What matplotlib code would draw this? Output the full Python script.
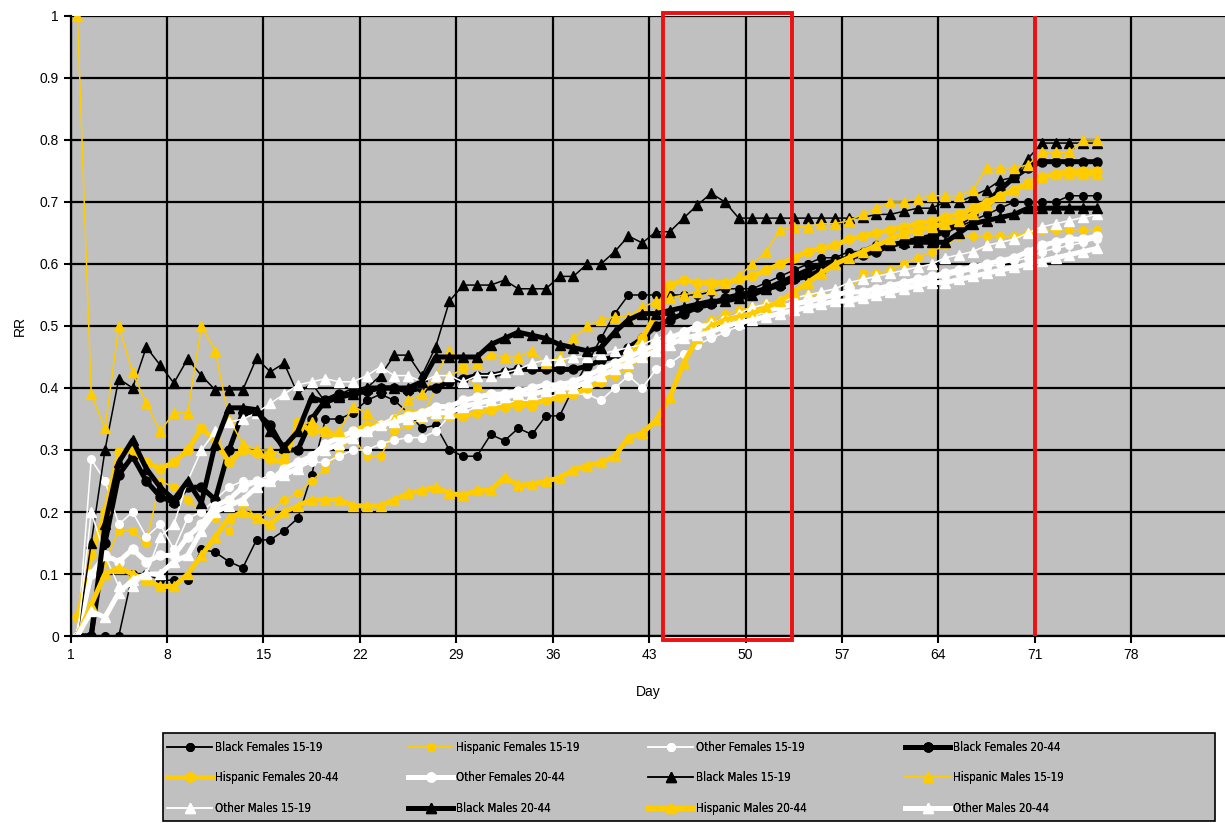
import numpy as np
import matplotlib
matplotlib.use("Agg")
import matplotlib.pyplot as plt
from matplotlib.patches import Rectangle
from matplotlib import font_manager

plt.rcParams['font.family'] = ['Liberation Sans', 'DejaVu Sans']

# --- DANE (dni 1..75) ---
days = np.arange(1, 76)
nan = np.nan

bf15 = [nan, 0, 0, 0, 0.10, 0.10, 0.09, 0.09, 0.09, 0.14,
        0.135, 0.12, 0.11, 0.155, 0.155, 0.17, 0.19, 0.26, 0.35, 0.35,
        0.36, 0.38, 0.39, 0.38, 0.36, 0.335, 0.34, 0.30, 0.29, 0.29,
        0.325, 0.315, 0.335, 0.325, 0.355, 0.355, 0.40, 0.44, 0.48, 0.52,
        0.55, 0.55, 0.55, 0.55, 0.55, 0.55, 0.555, 0.56, 0.56, 0.56,
        0.57, 0.58, 0.59, 0.60, 0.61, 0.61, 0.62, 0.62, 0.63, 0.63,
        0.63, 0.64, 0.64, 0.65, 0.66, 0.67, 0.68, 0.69, 0.70, 0.70,
        0.70, 0.70, 0.71, 0.71, 0.71]
hf15 = [0.0, 0.05, 0.12, 0.17, 0.17, 0.15, 0.25, 0.24, 0.22, 0.20,
        0.19, 0.17, 0.215, 0.19, 0.20, 0.22, 0.23, 0.25, 0.27, 0.30,
        0.32, 0.29, 0.29, 0.33, 0.34, 0.35, 0.40, 0.42, 0.43, 0.40,
        0.39, 0.38, 0.37, 0.37, 0.38, 0.39, 0.40, 0.41, 0.42, 0.42,
        0.43, 0.45, 0.47, 0.48, 0.49, 0.50, 0.51, 0.52, 0.525, 0.53,
        0.535, 0.54, 0.545, 0.55, 0.55, 0.55, 0.555, 0.585, 0.585, 0.59,
        0.60, 0.61, 0.62, 0.63, 0.645, 0.645, 0.645, 0.645, 0.645, 0.65,
        0.655, 0.655, 0.655, 0.655, 0.655]
of15 = [0.0, 0.285, 0.25, 0.18, 0.20, 0.16, 0.18, 0.14, 0.19, 0.20,
        0.22, 0.24, 0.25, 0.25, 0.26, 0.26, 0.27, 0.28, 0.28, 0.29,
        0.30, 0.30, 0.31, 0.316, 0.32, 0.32, 0.33, 0.355, 0.36, 0.37,
        0.37, 0.375, 0.38, 0.38, 0.385, 0.39, 0.39, 0.39, 0.38, 0.40,
        0.42, 0.40, 0.43, 0.44, 0.455, 0.47, 0.48, 0.49, 0.50, 0.51,
        0.515, 0.52, 0.525, 0.53, 0.535, 0.54, 0.545, 0.55, 0.555, 0.56,
        0.565, 0.57, 0.575, 0.58, 0.585, 0.59, 0.595, 0.60, 0.605, 0.61,
        0.62, 0.625, 0.63, 0.635, 0.64]
bf20 = [0.0, 0.0, 0.15, 0.26, 0.29, 0.25, 0.225, 0.215, 0.24, 0.24,
        0.22, 0.30, 0.36, 0.36, 0.34, 0.30, 0.30, 0.35, 0.38, 0.39,
        0.39, 0.395, 0.40, 0.40, 0.395, 0.40, 0.40, 0.41, 0.415, 0.42,
        0.42, 0.425, 0.43, 0.43, 0.43, 0.43, 0.43, 0.435, 0.445, 0.45,
        0.465, 0.48, 0.50, 0.51, 0.52, 0.53, 0.535, 0.545, 0.55, 0.555,
        0.56, 0.565, 0.575, 0.58, 0.59, 0.60, 0.61, 0.615, 0.62, 0.63,
        0.635, 0.64, 0.645, 0.655, 0.665, 0.68, 0.70, 0.72, 0.74, 0.755,
        0.765, 0.765, 0.765, 0.765, 0.765]
hf20 = [0.03, 0.13, 0.20, 0.296, 0.30, 0.28, 0.27, 0.28, 0.30, 0.335,
        0.316, 0.28, 0.30, 0.295, 0.285, 0.28, 0.345, 0.33, 0.33, 0.32,
        0.33, 0.34, 0.34, 0.345, 0.36, 0.36, 0.355, 0.355, 0.355, 0.36,
        0.365, 0.37, 0.375, 0.375, 0.38, 0.385, 0.39, 0.40, 0.41, 0.43,
        0.45, 0.48, 0.52, 0.566, 0.574, 0.57, 0.57, 0.57, 0.575, 0.58,
        0.59, 0.60, 0.61, 0.62, 0.625, 0.63, 0.64, 0.645, 0.65, 0.655,
        0.66, 0.665, 0.67, 0.675, 0.68, 0.69, 0.70, 0.71, 0.72, 0.73,
        0.74, 0.745, 0.75, 0.75, 0.75]
of20 = [0.0, 0.10, 0.13, 0.12, 0.14, 0.12, 0.13, 0.13, 0.16, 0.18,
        0.21, 0.22, 0.24, 0.25, 0.25, 0.27, 0.28, 0.29, 0.31, 0.32,
        0.33, 0.33, 0.34, 0.35, 0.355, 0.36, 0.37, 0.37, 0.38, 0.385,
        0.39, 0.39, 0.395, 0.40, 0.405, 0.405, 0.41, 0.42, 0.43, 0.44,
        0.45, 0.46, 0.47, 0.48, 0.49, 0.50, 0.50, 0.51, 0.515, 0.52,
        0.525, 0.53, 0.535, 0.54, 0.545, 0.55, 0.555, 0.555, 0.56, 0.565,
        0.57, 0.575, 0.58, 0.585, 0.59, 0.595, 0.60, 0.605, 0.61, 0.62,
        0.63, 0.635, 0.64, 0.64, 0.645]
bm15 = [0.0, 0.15, 0.30, 0.415, 0.40, 0.466, 0.437, 0.408, 0.447, 0.42,
        0.397, 0.397, 0.397, 0.448, 0.426, 0.44, 0.39, 0.408, 0.377, 0.389,
        0.40, 0.40, 0.42, 0.453, 0.453, 0.42, 0.466, 0.54, 0.566, 0.566,
        0.566, 0.574, 0.56, 0.56, 0.56, 0.58, 0.58, 0.60, 0.60, 0.62,
        0.645, 0.634, 0.652, 0.652, 0.674, 0.695, 0.714, 0.70, 0.674, 0.674,
        0.674, 0.674, 0.674, 0.674, 0.674, 0.674, 0.674, 0.675, 0.68, 0.68,
        0.685, 0.69, 0.69, 0.70, 0.70, 0.71, 0.72, 0.735, 0.74, 0.77,
        0.795, 0.795, 0.795, 0.795, 0.795]
hm15 = [1.0, 0.39, 0.335, 0.50, 0.425, 0.375, 0.33, 0.36, 0.36, 0.50,
        0.46, 0.35, 0.31, 0.30, 0.30, 0.29, 0.34, 0.345, 0.33, 0.33,
        0.37, 0.36, 0.34, 0.35, 0.38, 0.39, 0.42, 0.46, 0.44, 0.44,
        0.455, 0.45, 0.45, 0.46, 0.44, 0.45, 0.48, 0.50, 0.51, 0.515,
        0.515, 0.53, 0.54, 0.545, 0.55, 0.555, 0.56, 0.57, 0.58, 0.60,
        0.62, 0.655, 0.66, 0.66, 0.665, 0.665, 0.67, 0.68, 0.69, 0.70,
        0.70, 0.705, 0.71, 0.71, 0.71, 0.72, 0.755, 0.755, 0.755, 0.76,
        0.78, 0.78, 0.78, 0.80, 0.80]
om15 = [0.0, 0.20, 0.13, 0.08, 0.08, 0.10, 0.16, 0.18, 0.25, 0.30,
        0.33, 0.345, 0.35, 0.36, 0.375, 0.39, 0.405, 0.41, 0.415, 0.41,
        0.41, 0.42, 0.434, 0.42, 0.42, 0.41, 0.42, 0.42, 0.41, 0.42,
        0.42, 0.425, 0.43, 0.44, 0.445, 0.445, 0.45, 0.45, 0.455, 0.46,
        0.465, 0.47, 0.48, 0.485, 0.49, 0.50, 0.505, 0.51, 0.52, 0.53,
        0.535, 0.54, 0.545, 0.55, 0.555, 0.56, 0.57, 0.575, 0.58, 0.585,
        0.59, 0.595, 0.60, 0.61, 0.615, 0.62, 0.63, 0.635, 0.64, 0.65,
        0.66, 0.665, 0.67, 0.675, 0.68]
bm20 = [0.0, 0.0, 0.18, 0.28, 0.316, 0.27, 0.24, 0.22, 0.25, 0.215,
        0.31, 0.368, 0.368, 0.365, 0.33, 0.305, 0.33, 0.385, 0.377, 0.385,
        0.39, 0.40, 0.40, 0.40, 0.40, 0.41, 0.45, 0.45, 0.45, 0.45,
        0.47, 0.48, 0.49, 0.485, 0.48, 0.47, 0.465, 0.46, 0.465, 0.49,
        0.51, 0.52, 0.52, 0.525, 0.53, 0.535, 0.54, 0.54, 0.545, 0.55,
        0.56, 0.57, 0.58, 0.59, 0.60, 0.605, 0.61, 0.62, 0.63, 0.63,
        0.635, 0.635, 0.635, 0.635, 0.65, 0.665, 0.67, 0.675, 0.68, 0.69,
        0.69, 0.69, 0.69, 0.69, 0.69]
hm20 = [0.0, 0.05, 0.10, 0.11, 0.10, 0.09, 0.08, 0.08, 0.10, 0.13,
        0.16, 0.19, 0.20, 0.19, 0.18, 0.20, 0.21, 0.22, 0.22, 0.22,
        0.21, 0.21, 0.21, 0.22, 0.23, 0.235, 0.24, 0.23, 0.227, 0.235,
        0.235, 0.256, 0.243, 0.245, 0.25, 0.255, 0.268, 0.275, 0.28, 0.29,
        0.32, 0.327, 0.348, 0.385, 0.44, 0.48, 0.50, 0.51, 0.515, 0.52,
        0.53, 0.54, 0.555, 0.57, 0.585, 0.60, 0.61, 0.62, 0.63, 0.64,
        0.65, 0.655, 0.66, 0.665, 0.67, 0.68, 0.695, 0.71, 0.72, 0.73,
        0.74, 0.745, 0.745, 0.745, 0.745]
om20 = [0.0, 0.04, 0.03, 0.07, 0.09, 0.10, 0.10, 0.12, 0.13, 0.17,
        0.20, 0.21, 0.22, 0.24, 0.25, 0.26, 0.27, 0.29, 0.30, 0.31,
        0.32, 0.33, 0.34, 0.345, 0.35, 0.355, 0.36, 0.36, 0.37, 0.375,
        0.38, 0.385, 0.39, 0.39, 0.395, 0.40, 0.40, 0.41, 0.42, 0.43,
        0.44, 0.45, 0.46, 0.47, 0.48, 0.485, 0.49, 0.50, 0.505, 0.51,
        0.515, 0.52, 0.525, 0.53, 0.535, 0.54, 0.54, 0.545, 0.55, 0.555,
        0.56, 0.565, 0.57, 0.57, 0.575, 0.58, 0.585, 0.59, 0.595, 0.60,
        0.605, 0.61, 0.615, 0.62, 0.625]

labels = ['Black Females 15-19', 'Hispanic Females 15-19', 'Other Females 15-19',
          'Black Females 20-44', 'Hispanic Females 20-44', 'Other Females 20-44',
          'Black Males 15-19', 'Hispanic Males 15-19', 'Other Males 15-19',
          'Black Males 20-44', 'Hispanic Males 20-44', 'Other Males 20-44']
series = [bf15, hf15, of15, bf20, hf20, of20, bm15, hm15, om15, bm20, hm20, om20]

xtick_labels = [1, 8, 15, 22, 29, 36, 43, 50, 57, 64, 71, 78]
ytick_values = np.arange(0, 1.01, 0.1)
ytick_labels = ['0', '0.1', '0.2', '0.3', '0.4', '0.5', '0.6', '0.7', '0.8', '0.9', '1']

# --- STYL SERII ---
BLACK, GOLD, WHITE = '#000000', '#FFCC00', '#FFFFFF'
colors = [BLACK, GOLD, WHITE, BLACK, GOLD, WHITE, BLACK, GOLD, WHITE, BLACK, GOLD, WHITE]
markers = ['o', 'o', 'o', 'o', 'o', 'o', '^', '^', '^', '^', '^', '^']
thick = [False, False, False, True, True, True, False, False, False, True, True, True]

# waska czcionka do legendy (jesli jest), inaczej zwykla
condensed = [f for f in font_manager.fontManager.ttflist
             if f.name == 'DejaVu Sans' and f.stretch == 'condensed'
             and f.style == 'normal' and f.weight in (400, 'normal')]
if condensed:
    legend_prop = font_manager.FontProperties(fname=condensed[0].fname, size=8.3)
else:
    legend_prop = font_manager.FontProperties(family='Liberation Sans', size=8.3)

fig = plt.figure(figsize=(12.25, 8.23), dpi=100)
ax = fig.add_axes([0.0576, 0.2272, 0.9424, 0.7534])
ax.set_facecolor('#C0C0C0')

handles = []
for vals, lab, c, m, t in zip(series, labels, colors, markers, thick):
    lw = 3.6 if t else 1.1
    ms = 6.5 if t else 5.5
    if m == '^':
        ms += 1.0
    h, = ax.plot(days, vals, color=c, lw=lw, marker=m, ms=ms,
                 markeredgecolor=c, markerfacecolor=c, label=lab)
    handles.append(h)

# osie - kategorie jak w Excelu (etykieta dnia na kresce, punkt miedzy kreskami)
ax.set_xlim(0.5, 84.3)
ax.set_ylim(0, 1)
ax.set_xticks([d - 0.5 for d in xtick_labels])
ax.set_xticklabels([str(d) for d in xtick_labels], fontsize=10)
ax.set_yticks(ytick_values)
ax.set_yticklabels(ytick_labels, fontsize=10)
ax.grid(True, color='black', lw=1.6)
ax.set_axisbelow(True)
ax.tick_params(direction='out', length=5, width=1.5, color='black')
for s in ['top', 'right']:
    ax.spines[s].set_visible(False)
for s in ['left', 'bottom']:
    ax.spines[s].set_linewidth(1.6)

ax.set_xlabel('Day', fontsize=10, labelpad=17)
ax.set_ylabel('RR', fontsize=10, labelpad=9)

# zaznaczenia na czerwono
ax.add_patch(Rectangle((43.5, -0.006), 52.85 - 43.5, 1.01, fill=False,
                       edgecolor='#EE1111', lw=2.8, clip_on=False, zorder=5))
ax.axvline(70.5, color='#EE1111', lw=2.8, zorder=5)

# legenda - ramka + 4 kolumny ustawione jak w oryginale
W, H = 1225.0, 823.0
fig.patches.append(Rectangle((163 / W, 1 - 821 / H), (1215 - 163) / W, (821 - 733) / H,
                             transform=fig.transFigure, facecolor='#C0C0C0',
                             edgecolor='black', lw=1.2, zorder=0))
fs_px = legend_prop.get_size_in_points() * 100 / 72
col_x = [167, 408, 648, 905]
for c in range(4):
    idx = [r * 4 + c for r in range(3)]
    leg = fig.legend([handles[i] for i in idx], [labels[i] for i in idx],
                     loc='upper left', bbox_to_anchor=(col_x[c] / W, 1 - 741 / H),
                     frameon=False, borderpad=0, borderaxespad=0,
                     handlelength=45 / fs_px, handletextpad=3 / fs_px,
                     labelspacing=1.5, prop=legend_prop)
    fig.add_artist(leg)

fig.savefig('out.png', dpi=100)
